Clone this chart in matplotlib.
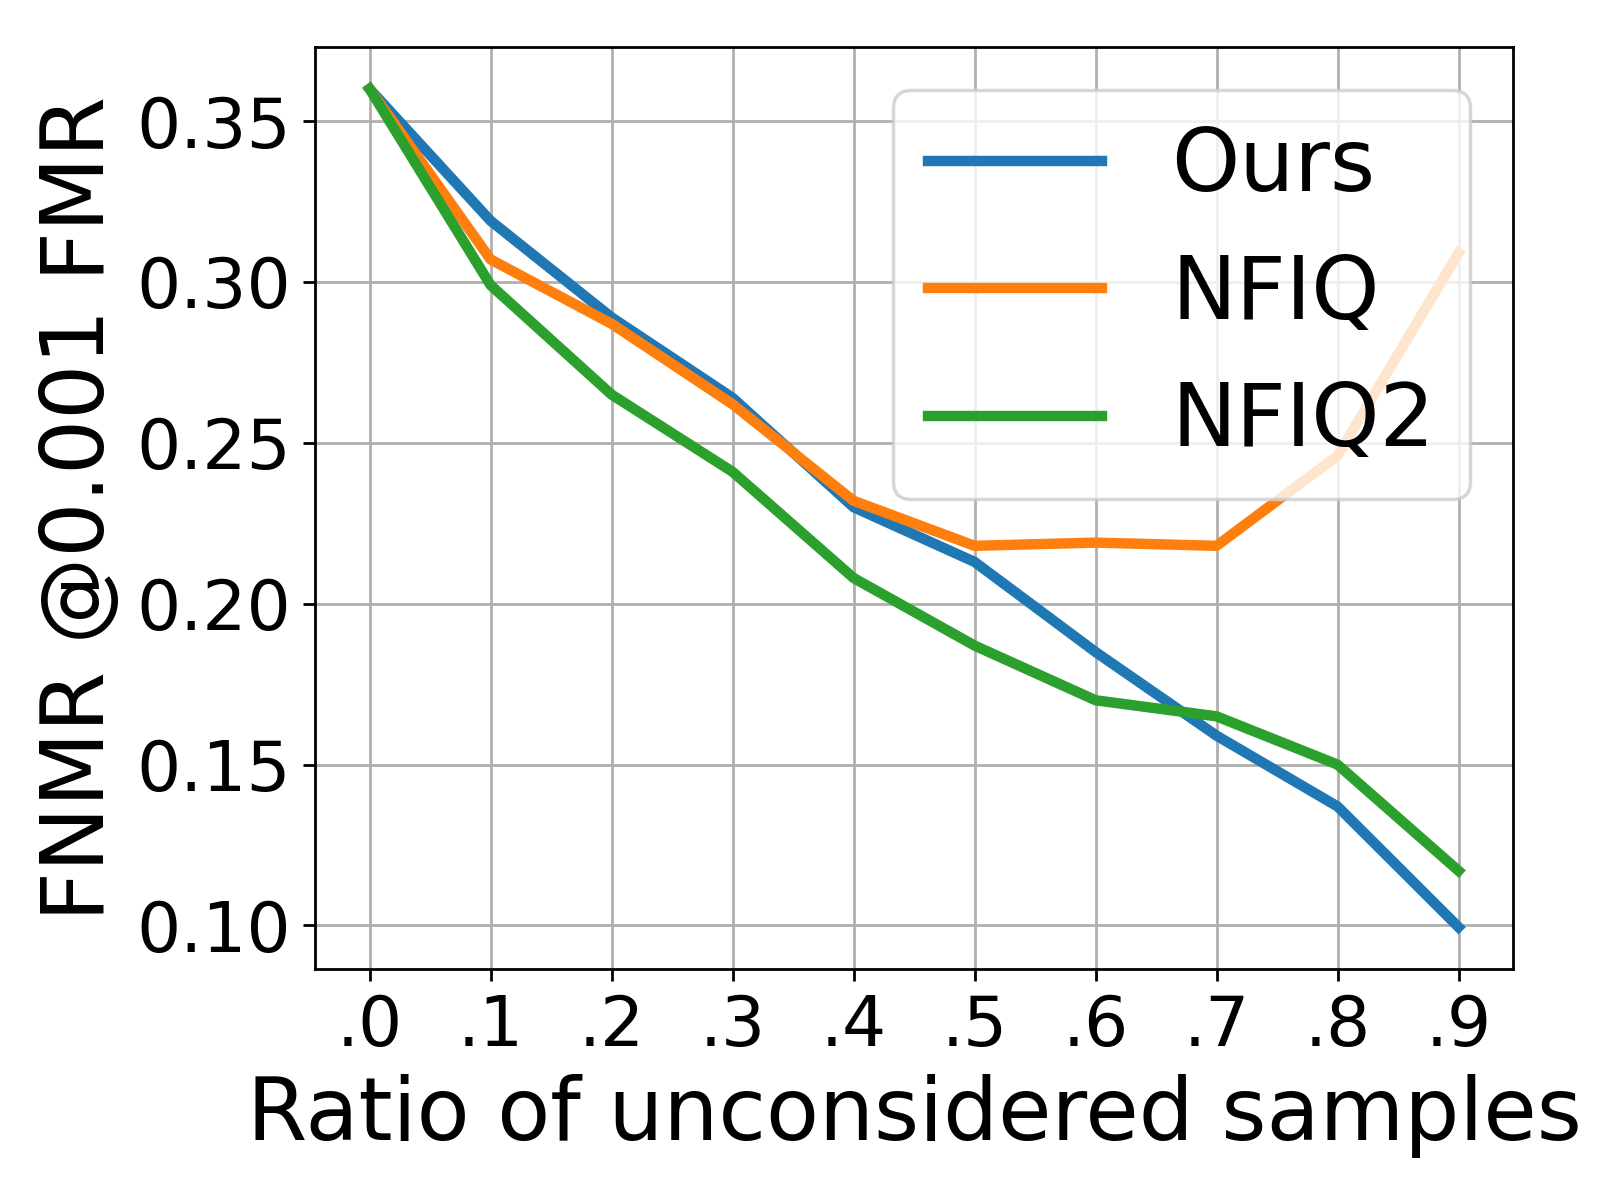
import numpy as np
import matplotlib
matplotlib.use("Agg")
import matplotlib.pyplot as plt

# ratio of unconsidered samples and FNMR values
ratios = [0.0, 0.1, 0.2, 0.3, 0.4, 0.5, 0.6, 0.7, 0.8, 0.9]
tick_labels = [".0", ".1", ".2", ".3", ".4", ".5", ".6", ".7", ".8", ".9"]
ours = [0.360, 0.319, 0.289, 0.264, 0.230, 0.213, 0.185, 0.159, 0.137, 0.0995]
nfiq = [0.360, 0.307, 0.287, 0.262, 0.232, 0.218, 0.219, 0.218, 0.246, 0.309]
nfiq2 = [0.360, 0.299, 0.265, 0.241, 0.208, 0.187, 0.170, 0.165, 0.150, 0.117]

fig = plt.figure(figsize=(6.4, 4.8), dpi=250)
ax = fig.add_axes([0.197, 0.1925, 0.7486, 0.7683])

ax.plot(ratios, ours, label="Ours", linewidth=3)
ax.plot(ratios, nfiq, label="NFIQ", linewidth=3)
ax.plot(ratios, nfiq2, label="NFIQ2", linewidth=3)

ax.grid(True)
ax.set_xticks(ratios, tick_labels)
ax.tick_params(axis='both', which='major', labelsize=20)
ax.set_xlabel("Ratio of unconsidered samples", fontsize=25)
ax.set_ylabel("FNMR @0.001 FMR", fontsize=25)
ax.legend(fontsize=25, loc='upper right')

fig.savefig("out.png", dpi=250)
